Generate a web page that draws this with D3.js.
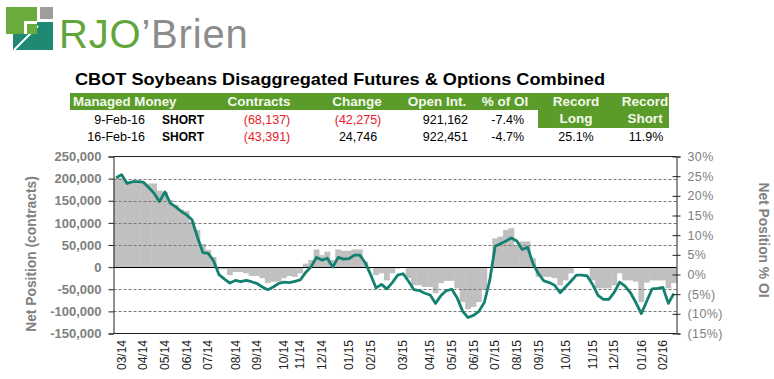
<!DOCTYPE html>
<html><head><meta charset="utf-8">
<script src="https://cdn.jsdelivr.net/npm/d3@7"></script>
<style>
body{margin:0;background:#fff;}
svg text{font-family:Arial,"Liberation Sans",sans-serif;}
</style>
</head><body>
<svg id="chart" width="774" height="379"></svg>
<script>
// ---------- DATA ----------
// Managed money net position (contracts), weekly, 104 weeks (Feb-2014 .. 16-Feb-2016)
const netPosition = [
 202000,209000,189000,193000,193000,192000,180000,167000,148000,170000,
 144000,136000,126000,118000,107000,68000,33000,31000,14000,-17000,
 -27000,-36000,-30000,-33000,-30000,-33000,-37000,-45000,-51000,-45000,
 -37000,-34000,-35000,-32000,-29000,-12000,1000,22000,16000,20000,
 0,22000,18000,19000,27000,27000,10000,-17000,-47000,-39000,
 -49000,-35000,-18000,-15000,-32000,-51000,-53000,-59000,-63000,-82000,
 -64000,-53000,-50000,-70000,-100000,-114000,-109000,-100000,-80000,-30000,
 47000,53000,59000,66000,59000,40000,45000,8000,-15000,-31000,
 -35000,-41000,-58000,-45000,-32000,-18000,-18000,-20000,-39000,-64000,
 -73000,-73000,-57000,-34000,-43000,-58000,-80000,-105000,-77000,-49000,
 -48000,-46000,-82000,-60000
];
// Grey shaded series (read against the left scale)
const shadedPosition = [
 202000,202000,195000,195000,195000,193000,189000,189000,173000,170000,
 152000,141000,130000,127000,102000,84000,52000,39000,23000,-5000,
 -5000,-18000,-11000,-11000,-14000,-20000,-20000,-25000,-36000,-33000,
 -33000,-25000,-20000,-22000,-14000,8000,16000,40000,27000,35000,
 16000,40000,37000,37000,40000,40000,12000,-3000,-18000,-14000,
 -30000,-14000,-3000,-2000,-25000,-41000,-41000,-45000,-45000,-59000,
 -36000,-31000,-31000,-48000,-79000,-95000,-90000,-79000,-52000,-2000,
 65000,69000,84000,88000,50000,58000,58000,20000,-22000,-22000,
 -22000,-25000,-41000,-30000,-14000,-1000,-1000,-2000,-30000,-48000,
 -48000,-48000,-41000,-14000,-30000,-30000,-33000,-79000,-35000,-30000,
 -30000,-30000,-48000,-36000
];
// Month labels of the category axis and the week (category index) each one sits on
const monthLabels = ["03/14","04/14","05/14","06/14","07/14","08/14","09/14","10/14","11/14","12/14",
  "01/15","02/15","03/15","04/15","05/15","06/15","07/15","08/15","09/15","10/15","11/15","12/15",
  "01/16","02/16"];
const monthLabelWeek = [1,5,9,13,17,22,26,31,34,38,43,47,53,58,62,66,70,74,78,83,88,92,97,101];
const leftTicks = [-150000,-100000,-50000,0,50000,100000,150000,200000,250000];
const rightTicks = [-15,-10,-5,0,5,10,15,20,25,30];

const title = "CBOT Soybeans Disaggregated Futures & Options Combined";
const headerLabels = ["Managed Money","Contracts","Change","Open Int.","% of OI"];
const recordLabels = [["Record","Long"],["Record","Short"]];
const rowDates = ["9-Feb-16","16-Feb-16"];
const rowSide = ["SHORT","SHORT"];
const rowContracts = [-68137,-43391];
const rowChange = [-42275,24746];
const rowOpenInt = [921162,922451];
const rowPctOI = [-7.4,-4.7];
const recordValues = ["25.1%","11.9%"];

// ---------- DRAW ----------
const svg = d3.select("#chart");
svg.append("rect").attr("width",774).attr("height",379).attr("fill","#fff");

// Logo
const logo = svg.append("g");
logo.append("rect").attr("x",6).attr("y",7).attr("width",31).attr("height",27).attr("fill","#6aab3c");
logo.append("rect").attr("x",40).attr("y",7).attr("width",13).attr("height",12).attr("fill","#9d9d9d");
logo.append("path").attr("d","M24,22 H53 V50 H13 V34 H24 Z").attr("fill","#1e8a74");
logo.append("rect").attr("x",24).attr("y",21).attr("width",13).attr("height",13).attr("fill","#fff");
logo.append("path").attr("d","M14,50 L38,26").attr("stroke","#fff").attr("stroke-width",2);
logo.append("rect").attr("x",27).attr("y",24).attr("width",10).attr("height",10).attr("fill","#6aab3c");
const lt = logo.append("text").attr("x",59).attr("y",48).attr("font-size",40).attr("letter-spacing",0.8);
lt.append("tspan").attr("fill","#62a53a").text("RJO");
lt.append("tspan").attr("fill","#8c8c8c").text("\u2019Brien");

// Title
svg.append("text").attr("x",75).attr("y",85).attr("font-size",17).attr("font-weight","bold")
  .attr("textLength",530).attr("lengthAdjust","spacingAndGlyphs")
  .attr("fill","#000").text(title);

// Table
const green = "#5a9b2a";
svg.append("rect").attr("x",70).attr("y",93).attr("width",470).attr("height",17).attr("fill",green);
svg.append("rect").attr("x",538).attr("y",93).attr("width",131).attr("height",35).attr("fill",green);
const hdrX = [73,259,357,437,505];
const hdrAnchor = ["start","middle","middle","middle","middle"];
const hdrSize = [13.3,13.5,13.5,13.5,13.5];
headerLabels.forEach((h,i)=>{
  svg.append("text").attr("x",hdrX[i]).attr("y",106).attr("font-size",hdrSize[i]).attr("font-weight","bold")
    .attr("fill","#f2f9ea").attr("text-anchor",hdrAnchor[i]).text(h);
});
const recX = [576,645];
recordLabels.forEach((r,i)=>{
  svg.append("text").attr("x",recX[i]).attr("y",106).attr("font-size",13.5).attr("font-weight","bold")
    .attr("fill","#f2f9ea").attr("text-anchor","middle").text(r[0]);
  svg.append("text").attr("x",recX[i]).attr("y",123).attr("font-size",13.5).attr("font-weight","bold")
    .attr("fill","#f2f9ea").attr("text-anchor","middle").text(r[1]);
});
const fmtN = d => d<0 ? "(" + d3.format(",")(-d) + ")" : d3.format(",")(d);
const rowY = [124,141];
const fs = 12.5;
rowDates.forEach((d,i)=>{
  const y0 = rowY[i];
  svg.append("text").attr("x",145).attr("y",y0).attr("font-size",fs).attr("text-anchor","end").attr("fill","#000").text(d);
  svg.append("text").attr("x",162).attr("y",y0).attr("font-size",12).attr("font-weight","bold").attr("fill","#000").text(rowSide[i]);
  svg.append("text").attr("x",267).attr("y",y0).attr("font-size",fs).attr("text-anchor","middle")
    .attr("fill",rowContracts[i]<0?"#e8202a":"#000").text(fmtN(rowContracts[i]));
  svg.append("text").attr("x",358).attr("y",y0).attr("font-size",fs).attr("text-anchor","middle")
    .attr("fill",rowChange[i]<0?"#e8202a":"#000").text(fmtN(rowChange[i]));
  svg.append("text").attr("x",468).attr("y",y0).attr("font-size",fs).attr("text-anchor","end").attr("fill","#000")
    .text(d3.format(",")(rowOpenInt[i]));
  svg.append("text").attr("x",524).attr("y",y0).attr("font-size",fs).attr("text-anchor","end").attr("fill","#000")
    .text(rowPctOI[i].toFixed(1)+"%");
});
svg.append("text").attr("x",576).attr("y",rowY[1]).attr("font-size",fs).attr("text-anchor","middle").text(recordValues[0]);
svg.append("text").attr("x",646).attr("y",rowY[1]).attr("font-size",fs).attr("text-anchor","middle").text(recordValues[1]);

// Chart scales
const pL = 113.5, pR = 676.5, pT = 156.5, pB = 333.5;
const n = netPosition.length;
const x = d3.scalePoint().domain(d3.range(n)).range([pL,pR]).padding(0.5);
const step = x.step();
const y = d3.scaleLinear().domain([-150000,250000]).range([pB,pT]);
const y2 = d3.scaleLinear().domain([-15,30]).range([pB,pT]);

// Grey bars
svg.append("g").selectAll("rect").data(d3.range(n)).join("rect")
  .attr("x", i => x(i)-step/2-0.2)
  .attr("width", step+0.4)
  .attr("y", i => Math.min(y(shadedPosition[i]), y(0)))
  .attr("height", i => Math.abs(y(shadedPosition[i]) - y(0)))
  .attr("fill","#c0c0c0");

// Gridlines
svg.append("g").selectAll("line").data(leftTicks.filter(t=>t!==0 && t!==250000 && t!==-150000)).join("line")
  .attr("x1",pL).attr("x2",pR).attr("y1",d=>Math.round(y(d))+0.5).attr("y2",d=>Math.round(y(d))+0.5)
  .attr("stroke","#7a7a7a").attr("stroke-dasharray","3,2").attr("stroke-width",1);
svg.append("line").attr("x1",pL).attr("x2",pR).attr("y1",Math.round(y(0))+0.5).attr("y2",Math.round(y(0))+0.5)
  .attr("stroke","#000").attr("stroke-width",1.2);

// Line
svg.append("path").datum(d3.range(n))
  .attr("d", d3.line().x(i=>x(i)).y(i=>y(netPosition[i])))
  .attr("fill","none").attr("stroke","#138070").attr("stroke-width",2.8).attr("stroke-linejoin","round");

// Frame
svg.append("line").attr("x1",pL).attr("x2",pR).attr("y1",pT).attr("y2",pT).attr("stroke","#222");
svg.append("line").attr("x1",pL).attr("x2",pR).attr("y1",pB).attr("y2",pB).attr("stroke","#222");

// Left axis
const fmtL = d => d3.format(",")(d).replace("\u2212","-");
const gL = svg.append("g").attr("transform",`translate(${pL},0)`)
  .call(d3.axisLeft(y).tickValues(leftTicks).tickSize(5).tickPadding(7).tickFormat(fmtL));
gL.select(".domain").attr("stroke","#222");
gL.selectAll(".tick line").attr("stroke","#222");
gL.selectAll("text").attr("fill","#808080").attr("font-size",13).attr("font-weight","bold")
  .attr("font-family",'Arial,"Liberation Sans",sans-serif');

// Right axis
const fmtR = d => d<0 ? "(" + (-d) + "%)" : d + "%";
const gR = svg.append("g").attr("transform",`translate(${pR},0)`)
  .call(d3.axisRight(y2).tickValues(rightTicks).tickSize(4).tickPadding(7).tickFormat(fmtR));
gR.select(".domain").attr("stroke","#222");
gR.selectAll(".tick line").attr("stroke","#222").attr("x1",-4);
gR.selectAll("text").attr("fill","#808080").attr("font-size",12.5).attr("letter-spacing",0.4)
  .attr("font-family",'Arial,"Liberation Sans",sans-serif');

// X labels (category axis)
svg.append("g").selectAll("text").data(monthLabels).join("text")
  .attr("transform", (d,k) => `translate(${x(monthLabelWeek[k])+4.2},340) rotate(-90)`)
  .attr("text-anchor","end").attr("font-size",12).attr("fill","#222")
  .text(d => d);

// Axis titles
svg.append("text").attr("transform","translate(36,254) rotate(-90)").attr("text-anchor","middle")
  .attr("font-size",13.8).attr("font-weight","bold").attr("fill","#808080").text("Net Position (contracts)");
svg.append("text").attr("transform","translate(759,240) rotate(90)").attr("text-anchor","middle")
  .attr("font-size",13.8).attr("font-weight","bold").attr("fill","#808080").text("Net Position % OI");
</script>
</body></html>
